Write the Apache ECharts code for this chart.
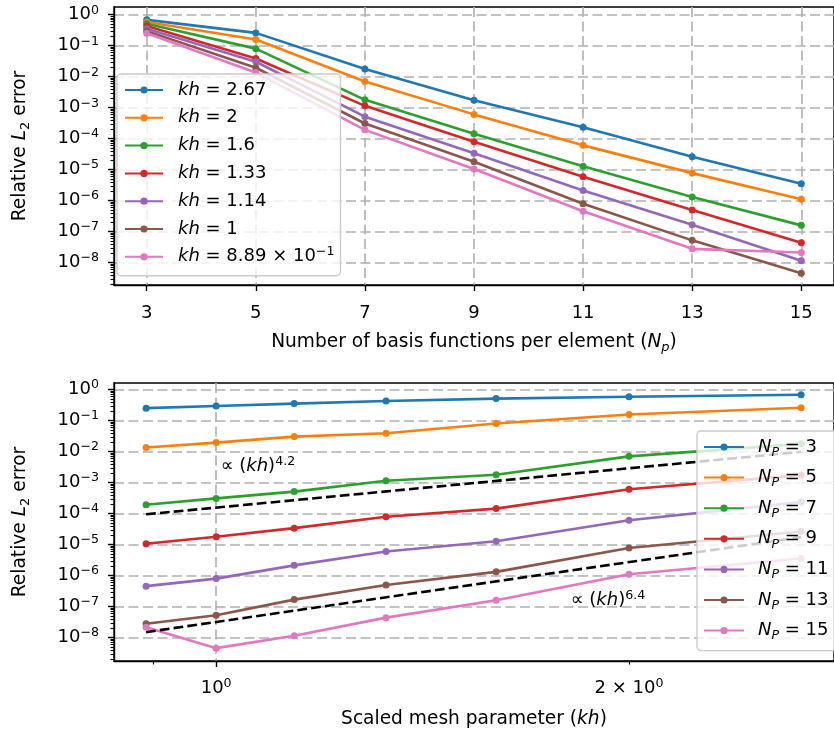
<!DOCTYPE html>
<html>
<head>
<meta charset="utf-8">
<script src="https://cdn.jsdelivr.net/npm/echarts@6/dist/echarts.min.js"></script>
<style>
html, body { margin: 0; padding: 0; background: #fff; }
#chart_box { width: 834px; height: 732px; }
</style>
</head>
<body>
<div id="chart_box"></div>
<script>
// number of basis functions per element (top x axis)
const npValues = [3, 5, 7, 9, 11, 13, 15];
// scaled mesh parameter (bottom x axis)
const khValues = [2.67, 2, 1.6, 1.33, 1.14, 1, 0.889];
const khLabels = ['2.67', '2', '1.6', '1.33', '1.14', '1', '8.89 × 10^−1'];

// relative L2 error, one array per kh, at Np = 3, 5, ..., 15
const errKh267 = [0.684, 0.260, 0.0178, 1.74e-3, 2.34e-4, 2.63e-5, 3.55e-6];
const errKh2 = [0.586, 0.158, 7.03e-3, 6.10e-4, 6.10e-5, 7.76e-6, 1.11e-6];
const errKh16 = [0.513, 0.0807, 1.80e-3, 1.45e-4, 1.29e-5, 1.32e-6, 1.60e-7];
const errKh133 = [0.430, 0.0389, 1.15e-3, 7.94e-5, 5.96e-6, 5.00e-7, 4.40e-8];
const errKh114 = [0.353, 0.0305, 5.13e-4, 3.39e-5, 2.14e-6, 1.68e-7, 1.15e-8];
const errKh1 = [0.296, 0.0195, 3.09e-4, 1.80e-5, 8.00e-7, 5.25e-8, 4.57e-9];
const errKh0889 = [0.252, 0.0136, 1.93e-4, 1.06e-5, 4.57e-7, 2.80e-8, 2.14e-8];
const errRows = [errKh267, errKh2, errKh16, errKh133, errKh114, errKh1, errKh0889];

// dashed reference slopes, end points
const fitKh = [0.889, 2.67];
const fit42 = [9.5e-5, 9.8e-3];
const fit64 = [1.5e-8, 1.74e-5];
const note42At = [1.0, 3.4e-3];
const note64At = [1.8, 1.6e-7];

// tick labels
const topXTicks = [3, 5, 7, 9, 11, 13, 15];
const yDecades = [-8, -7, -6, -5, -4, -3, -2, -1, 0];
const bottomXMajor = [1];
const bottomXLabels = [1, 2];
const bottomXMinor = [0.9, 2];

const colors = ['#1f77b4', '#ff7f0e', '#2ca02c', '#d62728', '#9467bd', '#8c564b', '#e377c2'];
const FONT = 'DejaVu Sans';
const lg = Math.log10;

const rich = {
  i: { fontFamily: FONT, fontSize: 18, fontStyle: 'italic', color: '#000' },
  ti: { fontFamily: FONT, fontSize: 18.6, fontStyle: 'italic', color: '#000' },
  sup: { fontFamily: FONT, fontSize: 12.6, verticalAlign: 'top', lineHeight: 12, color: '#000' },
  sub: { fontFamily: FONT, fontSize: 13, verticalAlign: 'bottom', lineHeight: 12, color: '#000' },
  isub: { fontFamily: FONT, fontSize: 12.6, fontStyle: 'italic', verticalAlign: 'bottom', lineHeight: 12, color: '#000' },
  tisub: { fontFamily: FONT, fontSize: 13, fontStyle: 'italic', verticalAlign: 'bottom', lineHeight: 12, color: '#000' }
};

function powLabel(v) {
  const n = Math.round(v);
  return '10{sup|' + (n < 0 ? '−' + (-n) : n) + '}';
}

// log minor tick positions between decades
function minorTicks(lo, hi) {
  const out = [];
  for (let d = Math.floor(lo) - 1; d <= Math.ceil(hi); d++) {
    for (let k = 2; k <= 9; k++) {
      const v = d + lg(k);
      if (v > lo && v < hi) out.push(v);
    }
  }
  return out;
}

const gridLine = { show: true, lineStyle: { color: '#b0b0b0', width: 1.6, type: [10, 4.5] } };
const spine = { show: true, onZero: false, lineStyle: { color: '#000', width: 1.4 } };
const labelBase = { fontFamily: FONT, fontSize: 18, color: '#000', lineHeight: 22, rich: rich };
const nameBase = { fontFamily: FONT, fontSize: 18.6, color: '#000', lineHeight: 24, rich: rich };

const topY = [-8.72, 0.25];
const botY = [-8.755, 0.213];

const series = [];
errRows.forEach(function (row, i) {
  series.push({
    name: 'kh = ' + khLabels[i],
    type: 'line',
    xAxisIndex: 0, yAxisIndex: 0,
    symbol: 'circle', symbolSize: 7,
    lineStyle: { width: 2.6, color: colors[i] },
    itemStyle: { color: colors[i] },
    data: npValues.map(function (n, j) { return [n, lg(row[j])]; })
  });
});
npValues.forEach(function (np, j) {
  const pts = khValues.map(function (k, i) { return [lg(k), lg(errRows[i][j])]; });
  pts.sort(function (a, b) { return a[0] - b[0]; });
  series.push({
    name: 'N_P = ' + np,
    type: 'line',
    xAxisIndex: 1, yAxisIndex: 2,
    symbol: 'circle', symbolSize: 7,
    lineStyle: { width: 2.6, color: colors[j] },
    itemStyle: { color: colors[j] },
    data: pts
  });
});
[fit42, fit64].forEach(function (fit) {
  series.push({
    type: 'line',
    xAxisIndex: 1, yAxisIndex: 2,
    symbol: 'none',
    lineStyle: { width: 2.6, color: '#000', type: [9.7, 4.2] },
    data: fitKh.map(function (k, i) { return [lg(k), lg(fit[i])]; })
  });
});
[[note42At, '4.2'], [note64At, '6.4']].forEach(function (n) {
  series.push({
    type: 'scatter',
    xAxisIndex: 1, yAxisIndex: 2,
    symbolSize: 1,
    silent: true,
    itemStyle: { opacity: 1, color: 'rgba(0,0,0,0)' },
    label: {
      show: true, position: 'right', distance: 4,
      fontFamily: FONT, fontSize: 18, color: '#000', opacity: 1, lineHeight: 22, rich: rich,
      formatter: '∝ ({i|kh}){sup|' + n[1] + '}'
    },
    data: [[lg(n[0][0]), lg(n[0][1])]]
  });
});

const option = {
  animation: false,
  backgroundColor: '#fff',
  grid: [
    { left: 108, top: 7, width: 735, height: 278, show: true, borderColor: '#000', borderWidth: 1.4, backgroundColor: 'transparent' },
    { left: 108, top: 383, width: 735, height: 278, show: true, borderColor: '#000', borderWidth: 1.4, backgroundColor: 'transparent' }
  ],
  legend: [
    {
      orient: 'vertical', left: 117, top: 74,
      data: khLabels.map(function (l) { return 'kh = ' + l; }),
      itemWidth: 38, itemHeight: 9, itemGap: 3.8,
      padding: [4, 6, 7, 7],
      backgroundColor: 'rgba(255,255,255,0.8)',
      borderColor: '#cccccc', borderWidth: 1.4, borderRadius: 4,
      textStyle: { fontFamily: FONT, fontSize: 18, color: '#000', lineHeight: 24, padding: [0, 0, 0, 10], rich: rich },
      formatter: function (name) {
        return name.replace('kh', '{i|kh}').replace('10^−1', '10{sup|−1}');
      }
    },
    {
      orient: 'vertical', left: 697, top: 431,
      data: npValues.map(function (n) { return 'N_P = ' + n; }),
      itemWidth: 40, itemHeight: 9, itemGap: 6.6,
      padding: [4, 8, 8, 6],
      backgroundColor: 'rgba(255,255,255,0.8)',
      borderColor: '#cccccc', borderWidth: 1.4, borderRadius: 4,
      textStyle: { fontFamily: FONT, fontSize: 18, color: '#000', lineHeight: 24, padding: [0, 0, 0, 9], rich: rich },
      formatter: function (name) {
        return name.replace('N_P', '{i|N}{isub|P}');
      }
    }
  ],
  xAxis: [
    {
      type: 'value', gridIndex: 0, min: 2.4, max: 15.6,
      axisLine: spine,
      axisTick: { show: true, length: 6, lineStyle: { width: 1.4, color: '#000' }, customValues: topXTicks },
      axisLabel: Object.assign({ margin: 17, customValues: topXTicks }, labelBase),
      splitLine: gridLine,
      name: 'Number of basis functions per element ({ti|N}{tisub|p})',
      nameLocation: 'middle', nameGap: 45, nameTextStyle: nameBase
    },
    {
      type: 'value', gridIndex: 1, min: -0.0745, max: 0.4505,
      axisLine: spine,
      axisTick: { show: true, length: 6, lineStyle: { width: 1.4, color: '#000' }, customValues: bottomXMajor.map(lg) },
      axisLabel: Object.assign({
        margin: 16, customValues: bottomXLabels.map(lg),
        formatter: function (v) { return Math.abs(v) < 1e-9 ? '10{sup|0}' : '2 × 10{sup|0}'; }
      }, labelBase),
      splitLine: gridLine,
      name: 'Scaled mesh parameter ({ti|kh})',
      nameLocation: 'middle', nameGap: 46, nameTextStyle: nameBase
    },
    {
      type: 'value', gridIndex: 1, min: -0.0745, max: 0.4505, position: 'bottom',
      axisLine: { show: false, onZero: false },
      axisTick: { show: true, length: 3.5, lineStyle: { width: 1.2, color: '#000' }, customValues: bottomXMinor.map(lg) },
      axisLabel: { show: false },
      splitLine: { show: false }
    }
  ],
  yAxis: [
    {
      type: 'value', gridIndex: 0, min: topY[0], max: topY[1],
      axisLine: spine,
      axisTick: { show: true, length: 6, lineStyle: { width: 1.4, color: '#000' }, customValues: yDecades },
      axisLabel: Object.assign({ margin: 15, customValues: yDecades, formatter: powLabel }, labelBase),
      splitLine: gridLine,
      name: 'Relative {ti|L}{sub|2} error',
      nameLocation: 'middle', nameGap: 82, nameTextStyle: nameBase
    },
    {
      type: 'value', gridIndex: 0, min: topY[0], max: topY[1], position: 'left',
      axisLine: { show: false, onZero: false },
      axisTick: { show: true, length: 3.5, lineStyle: { width: 1.1, color: '#000' }, customValues: minorTicks(topY[0], topY[1]) },
      axisLabel: { show: false },
      splitLine: { show: false }
    },
    {
      type: 'value', gridIndex: 1, min: botY[0], max: botY[1],
      axisLine: spine,
      axisTick: { show: true, length: 6, lineStyle: { width: 1.4, color: '#000' }, customValues: yDecades },
      axisLabel: Object.assign({ margin: 15, customValues: yDecades, formatter: powLabel }, labelBase),
      splitLine: gridLine,
      name: 'Relative {ti|L}{sub|2} error',
      nameLocation: 'middle', nameGap: 82, nameTextStyle: nameBase
    },
    {
      type: 'value', gridIndex: 1, min: botY[0], max: botY[1], position: 'left',
      axisLine: { show: false, onZero: false },
      axisTick: { show: true, length: 3.5, lineStyle: { width: 1.1, color: '#000' }, customValues: minorTicks(botY[0], botY[1]) },
      axisLabel: { show: false },
      splitLine: { show: false }
    }
  ],
  series: series
};

const myChart = echarts.init(document.getElementById('chart_box'), null, { renderer: 'canvas' });
myChart.setOption(option);
</script>
</body>
</html>
